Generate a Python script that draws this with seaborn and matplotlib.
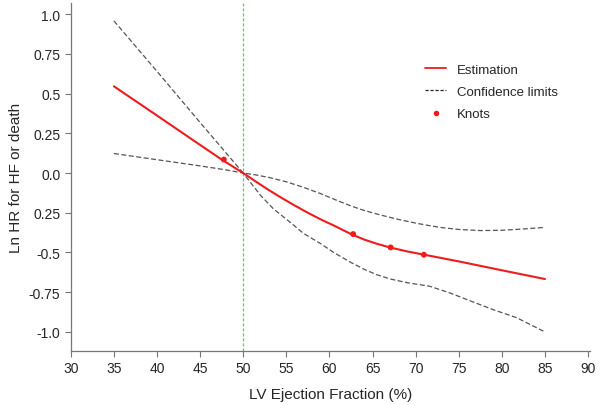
import matplotlib.pyplot as plt
import pandas as pd
import seaborn as sns
from matplotlib.lines import Line2D

# Restricted cubic spline: LVEF vs ln HR for HF or death

ef = [35, 40, 45, 47.5, 50, 51.5, 53, 54.5, 56, 57.5, 59, 60.5, 62.5, 64, 65.5,
      67, 69, 71, 75, 80, 85]
est = [0.546, 0.362, 0.177, 0.085, 0.0, -0.055, -0.108, -0.158, -0.205, -0.25,
       -0.292, -0.33, -0.384, -0.418, -0.445, -0.468, -0.493, -0.514, -0.556,
       -0.612, -0.667]

upper_x = [35, 40, 45, 50, 51.5, 53, 55, 57, 59, 61, 62.5, 64, 66, 68, 70,
           71.5, 73, 75, 77.5, 80, 82.5, 85]
upper_y = [0.958, 0.64, 0.318, 0.0, -0.012, -0.028, -0.055, -0.09, -0.13,
           -0.175, -0.207, -0.235, -0.265, -0.292, -0.315, -0.33, -0.343,
           -0.355, -0.362, -0.36, -0.352, -0.342]

lower_x = [35, 40, 45, 48, 50, 51, 52, 53.5, 55.4, 57, 59, 60.5, 62.4, 64,
           65.5, 67, 69, 71.6, 74, 76.6, 79, 81.7, 85]
lower_y = [0.123, 0.084, 0.045, 0.02, 0.0, -0.07, -0.14, -0.225, -0.308,
           -0.38, -0.445, -0.5, -0.56, -0.605, -0.64, -0.666, -0.69, -0.712,
           -0.755, -0.81, -0.86, -0.91, -1.0]

knots_x = [47.75, 62.75, 67.1, 70.95]
knots_y = [0.085, -0.384, -0.468, -0.514]

yticks = [1.0, 0.75, 0.5, 0.25, 0.0, -0.25, -0.5, -0.75, -1.0]
ytick_labels = ["1.0", "0.75", "0.5", "0.25", "0.0", "0.25", "-0.5", "-0.75", "-1.0"]
xticks = list(range(30, 95, 5))

sns.set_style("ticks")
plt.rcParams['font.family'] = ['Liberation Sans', 'DejaVu Sans']

fig = plt.figure(figsize=(6, 4.06), dpi=100)
ax = fig.add_axes([0.118, 0.133, 0.865, 0.857])

ax.axvline(50, color="#6cc46c", lw=0.9, ls=(0, (2.5, 1.5)))
sns.lineplot(x=upper_x, y=upper_y, ax=ax, color="#555555", lw=0.9, ls=(0, (4, 2)))
sns.lineplot(x=lower_x, y=lower_y, ax=ax, color="#555555", lw=0.9, ls=(0, (4, 2)))
sns.lineplot(x=ef, y=est, ax=ax, color="#ee1c1c", lw=1.5)
sns.scatterplot(x=knots_x, y=knots_y, ax=ax, color="#ee1c1c", s=18, edgecolor="none", zorder=5)

ax.set_xlim(30, 90.2)
ax.set_ylim(-1.12, 1.07)
ax.set_xticks(xticks)
ax.set_yticks(yticks)
ax.set_yticklabels(ytick_labels)
ax.tick_params(labelsize=10, color="#777777", length=4, width=0.8)
for s in ["top", "right"]:
    ax.spines[s].set_visible(False)
for s in ["left", "bottom"]:
    ax.spines[s].set_color("#777777")
    ax.spines[s].set_linewidth(0.9)

ax.set_xlabel("LV Ejection Fraction (%)", fontsize=11, labelpad=8)
ax.set_ylabel("Ln HR for HF or death", fontsize=11, labelpad=4)

handles = [
    Line2D([], [], color="#ee1c1c", lw=1.3),
    Line2D([], [], color="#222222", lw=0.9, ls=(0, (2.5, 1.5))),
    Line2D([], [], color="#ee1c1c", marker="o", ls="none", markersize=3),
]
ax.legend(handles, ["Estimation", "Confidence limits", "Knots"],
          loc="upper left", bbox_to_anchor=(0.66, 0.86), frameon=False,
          fontsize=9.5, handlelength=1.6, labelspacing=0.75)

plt.savefig("out.png", dpi=100)
